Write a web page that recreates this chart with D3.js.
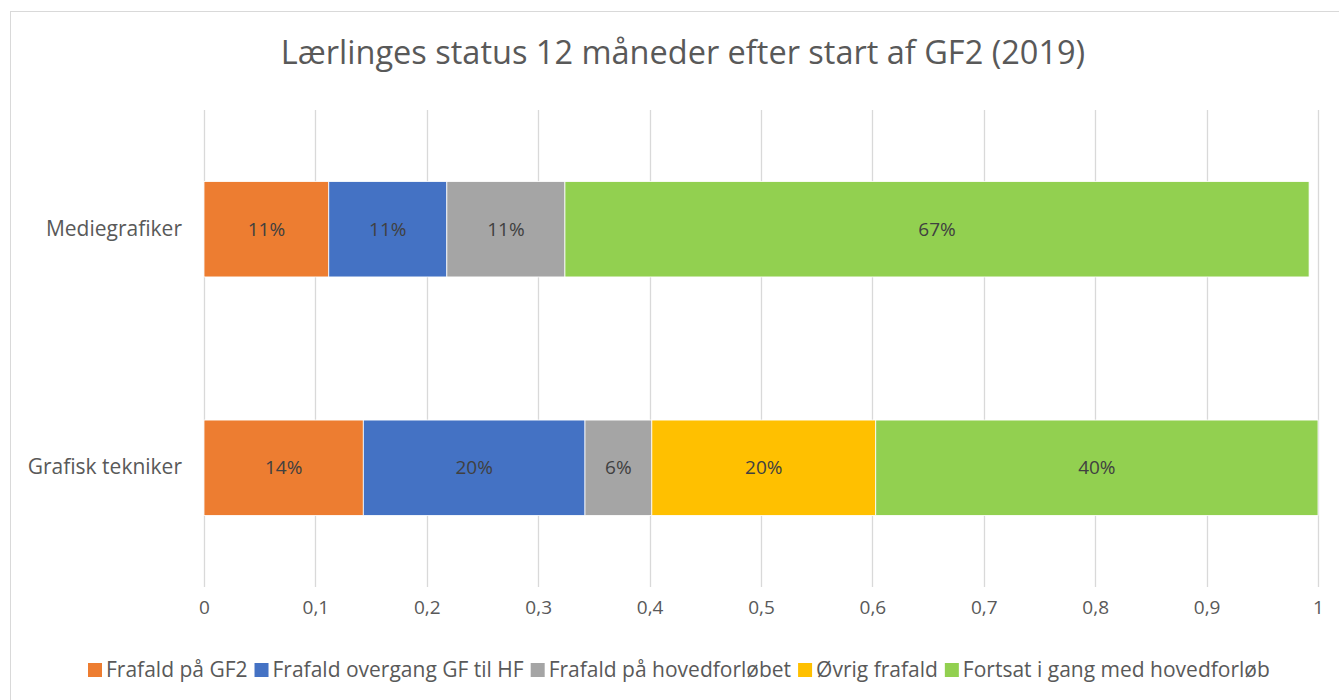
<!DOCTYPE html>
<html>
<head>
  <meta charset="UTF-8">
  <title>Lærlinges status</title>
  <style>
    body { margin: 0; background: #fff; }
    text { font-family: "Open Sans", "Noto Sans", sans-serif; }
  </style>
</head>
<body>
  <div class="svg-zone"></div>
  <script src="https://cdn.jsdelivr.net/npm/d3@7"></script>
  <script type="text/javascript">
  // data
  let categories = ["Mediegrafiker", "Grafisk tekniker"];
  let seriesNames = ["Frafald på GF2", "Frafald overgang GF til HF", "Frafald på hovedforløbet", "Øvrig frafald", "Fortsat i gang med hovedforløb"];
  let frafaldGF2 = [0.112, 0.143];
  let frafaldOvergang = [0.106, 0.199];
  let frafaldHoved = [0.106, 0.060];
  let oevrigFrafald = [0, 0.201];
  let fortsat = [0.668, 0.397];
  let xTicks = [0, 0.1, 0.2, 0.3, 0.4, 0.5, 0.6, 0.7, 0.8, 0.9, 1];
  let colors = ["#ed7d31", "#4472c4", "#a5a5a5", "#ffc000", "#92d050"];

  let width = 1339, height = 700;
  let margin = { left: 204, right: 21, top: 110, bottom: 113 };

  let svg = d3.select(".svg-zone").append("svg")
    .attr("width", width)
    .attr("height", height);

  // chart border
  svg.append("rect")
    .attr("x", 10.5).attr("y", 11.5)
    .attr("width", width - 10).attr("height", height - 10)
    .attr("fill", "none")
    .attr("stroke", "#d9d9d9");

  let table = categories.map(function (c, i) {
    return {
      cat: c,
      s0: frafaldGF2[i], s1: frafaldOvergang[i], s2: frafaldHoved[i], s3: oevrigFrafald[i], s4: fortsat[i]
    };
  });
  let stack = d3.stack().keys(["s0", "s1", "s2", "s3", "s4"])(table);

  let x = d3.scaleLinear().domain([0, 1]).range([margin.left, 1318]);
  let y = d3.scaleBand().domain(categories)
    .range([margin.top, height - margin.bottom])
    .paddingInner(0.6).paddingOuter(0.3);

  // gridlines
  svg.append("g").selectAll("line").data(xTicks).enter().append("line")
    .attr("x1", function (d) { return Math.round(x(d)) + 0.5; })
    .attr("x2", function (d) { return Math.round(x(d)) + 0.5; })
    .attr("y1", margin.top)
    .attr("y2", height - margin.bottom)
    .attr("stroke", "#d9d9d9")
    .attr("stroke-width", 1.3);

  // bars
  let layers = svg.append("g").selectAll("g").data(stack).enter().append("g")
    .attr("fill", function (d, i) { return colors[i]; });

  layers.selectAll("rect").data(function (d) { return d; }).enter().append("rect")
    .attr("x", function (d) { return x(d[0]); })
    .attr("width", function (d) { return x(d[1]) - x(d[0]); })
    .attr("y", function (d) { return y(d.data.cat); })
    .attr("height", y.bandwidth())
    .attr("stroke", "#fff")
    .attr("stroke-width", 0.8);

  // value labels
  let fmt = d3.format(".0%");
  layers.selectAll("text").data(function (d) { return d.filter(function (p) { return p[1] - p[0] > 0; }); })
    .enter().append("text")
    .attr("x", function (d) { return (x(d[0]) + x(d[1])) / 2; })
    .attr("y", function (d) { return y(d.data.cat) + y.bandwidth() / 2; })
    .attr("dy", "0.35em")
    .attr("text-anchor", "middle")
    .attr("fill", "#404040")
    .style("font-size", "19px")
    .text(function (d) { return fmt(d[1] - d[0]); });

  // x axis
  let xAxis = d3.axisBottom(x).tickValues(xTicks).tickSize(0).tickPadding(14)
    .tickFormat(function (d) { return String(d).replace(".", ","); });
  let gx = svg.append("g")
    .attr("transform", "translate(0," + (height - margin.bottom) + ")")
    .call(xAxis);
  gx.select(".domain").remove();
  gx.selectAll("text").attr("fill", "#595959").style("font-size", "19px");

  // y axis
  let yAxis = d3.axisLeft(y).tickSize(0).tickPadding(22);
  let gy = svg.append("g")
    .attr("transform", "translate(" + margin.left + ",0)")
    .call(yAxis);
  gy.select(".domain").remove();
  gy.selectAll("text").attr("fill", "#595959").style("font-size", "21px");

  // title
  svg.append("text")
    .attr("x", 683).attr("y", 64)
    .attr("text-anchor", "middle")
    .attr("fill", "#595959")
    .style("font-size", "32.5px")
    .text("Lærlinges status 12 måneder efter start af GF2 (2019)");

  // legend
  let legend = svg.append("g").attr("transform", "translate(0,670)");
  let lx = 88;
  seriesNames.forEach(function (name, i) {
    let item = legend.append("g").attr("transform", "translate(" + lx + ",0)");
    item.append("rect").attr("x", 0).attr("y", -7).attr("width", 14).attr("height", 14).attr("fill", colors[i]);
    let t = item.append("text").attr("x", 18).attr("dy", "0.35em")
      .attr("fill", "#595959").style("font-size", "21px").text(name);
    lx += 18 + t.node().getComputedTextLength() + 7;
  });
  </script>
</body>
</html>
